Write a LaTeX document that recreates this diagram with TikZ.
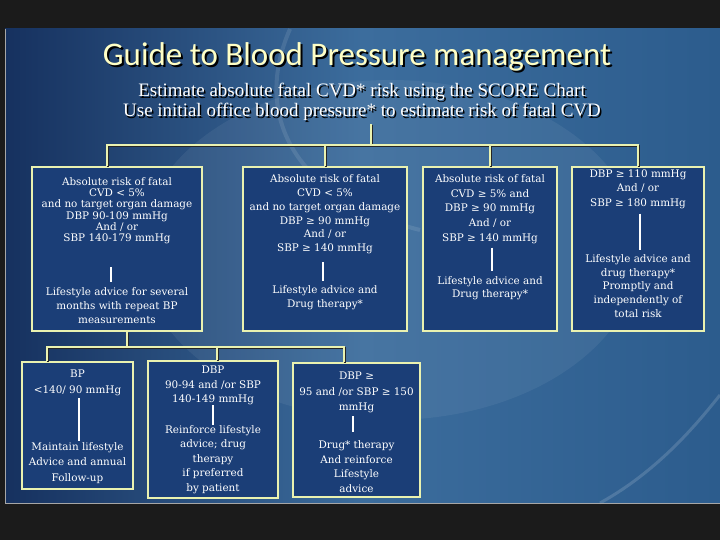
\documentclass[tikz,border=0pt]{standalone}
\usepackage{fontspec}
\setmainfont{Liberation Serif}
\newfontfamily\boxfont{DejaVu Serif}
\newfontfamily\titlefont{Carlito}
\usetikzlibrary{positioning}

\definecolor{outerbg}{HTML}{1B1B1B}
\definecolor{panelL}{HTML}{16315F}
\definecolor{panelM}{HTML}{3C6D9D}
\definecolor{panelR}{HTML}{2C5C8D}
\definecolor{boxline}{HTML}{EAF2B0}
\definecolor{boxfill}{HTML}{1B3E77}
\definecolor{titleyellow}{HTML}{FFFFC6}

\tikzset{
  box/.style={draw=boxline, line width=1.6pt, fill=boxfill, inner sep=0pt},
  btxt/.style={text=white, align=center, inner sep=0pt, anchor=north,
    font=\boxfont\fontsize{10.4}{#1}\selectfont},
  btxt/.default=14,
  conn/.style={draw=boxline, line width=1.6pt,
    preaction={draw=black!85, line width=1.6pt, transform canvas={shift={(1pt,-1pt)}}}},
  sepline/.style={draw=white, line width=1.8pt},
  titletxt/.style={font=\titlefont\fontsize{33}{33}\selectfont},
  subtxt/.style={font=\fontsize{19}{20}\selectfont, align=center}
}

\begin{document}
\begin{tikzpicture}[x=1pt,y=-1pt]
  \useasboundingbox (0,0) rectangle (720,540);
  \fill[outerbg] (0,0) rectangle (720,540);

  % slide background
  \shade[left color=panelL, right color=panelR, middle color=panelM] (5,29) rectangle (720,503);
  \fill[white, opacity=0.06] (390,250) ellipse (250pt and 170pt);
  \draw[white, opacity=0.10, line width=4pt] (290,29) .. controls (250,120) and (300,200) .. (420,230);
  \draw[white, opacity=0.15, line width=3pt] (600,503) .. controls (660,470) and (700,420) .. (720,395);
  \draw[gray!70, line width=0.8pt] (5,29) -- (5,503) -- (720,503);

  % title
  \node[titletxt, text=black] (title-s) at (359,59) {Guide to Blood Pressure management};
  \node[titletxt, text=titleyellow] (title) at (357,57) {Guide to Blood Pressure management};
  \node[subtxt, text=black] (sub-s) at (363.5,103.5) {Estimate absolute fatal CVD* risk using the SCORE Chart\\Use initial office blood pressure* to estimate risk of fatal CVD};
  \node[subtxt, text=white] (sub) at (362,102) {Estimate absolute fatal CVD* risk using the SCORE Chart\\Use initial office blood pressure* to estimate risk of fatal CVD};

  % boxes
  \node[box, minimum width=170, minimum height=164] (A) at (117,249) {};
  \node[box, minimum width=164, minimum height=164] (B) at (325,249) {};
  \node[box, minimum width=134, minimum height=164] (C) at (490,249) {};
  \node[box, minimum width=132, minimum height=164] (D) at (638,249) {};
  \node[box, minimum width=111, minimum height=127] (E) at (77.5,425.5) {};
  \node[box, minimum width=130, minimum height=137] (F) at (213,429.5) {};
  \node[box, minimum width=127, minimum height=134] (G) at (356.5,430) {};

  % tree lines
  \coordinate (split1) at (371,145);
  \draw[conn] (split1 |- sub.south) -- (split1);
  \draw[conn] ([xshift=-10pt]A.north) |- (split1) -| (D.north);
  \draw[conn] (B.north) -- (B.north |- split1);
  \draw[conn] (C.north) -- (C.north |- split1);
  \coordinate (split2) at (127,347);
  \draw[conn] ([xshift=10pt]A.south) -- (split2);
  \draw[conn] ([xshift=-30.5pt]E.north) |- (split2) -| ([xshift=-12.5pt]G.north);
  \draw[conn] ([xshift=4pt]F.north) -- ([xshift=4pt]F.north |- split2);

  % box texts
  \node[btxt=11.3, below=11pt of A.north] (A1) {Absolute risk of fatal\\CVD < 5\%\\and no target organ damage\\DBP 90-109 mmHg\\And / or\\SBP 140-179 mmHg};
  \node[btxt, below=121pt of A.north] (A2) {Lifestyle advice for several\\months with repeat BP\\measurements};
  \node[btxt=13.9, below=8pt of B.north] (B1) {Absolute risk of fatal\\CVD < 5\%\\and no target organ damage\\DBP ≥ 90 mmHg\\And / or\\SBP ≥ 140 mmHg};
  \node[btxt, below=119pt of B.north] (B2) {Lifestyle advice and\\Drug therapy*};
  \node[btxt=14.7, below=8pt of C.north] (C1) {Absolute risk of fatal\\CVD ≥ 5\% and\\DBP ≥ 90 mmHg\\And / or\\SBP ≥ 140 mmHg};
  \node[btxt=13, below=110pt of C.north] (C2) {Lifestyle advice and\\Drug therapy*};
  \node[btxt=14.5, below=3pt of D.north] (D1) {DBP ≥ 110 mmHg\\And / or\\SBP ≥ 180 mmHg};
  \node[btxt=13.8, below=88pt of D.north] (D2) {Lifestyle advice and\\drug therapy*\\Promptly and\\independently of\\total risk};
  \node[btxt=16, below=9pt of E.north] (E1) {BP\\<140/ 90 mmHg};
  \node[btxt=15.5, below=81pt of E.north] (E2) {Maintain lifestyle\\Advice and annual\\Follow-up};
  \node[btxt=14.5, below=6pt of F.north] (F1) {DBP\\90-94 and /or SBP\\140-149 mmHg};
  \node[btxt=14.5, below=65pt of F.north] (F2) {Reinforce lifestyle\\advice; drug\\therapy\\if preferred\\by patient};
  \node[btxt=15.5, below=10pt of G.north] (G1) {DBP ≥\\95 and /or SBP ≥ 150\\mmHg};
  \node[btxt=14.7, below=78pt of G.north] (G2) {Drug* therapy\\And reinforce\\Lifestyle\\advice};

  % separators
  \foreach \n/\dx/\a/\b in {A/-6/23/5, B/-2/8/4, C/2/4/5, D/2/5/4, E/1.5/2/1, F/0/0/0, G/-3.5/3/8}
    \draw[sepline, shorten <=\a pt, shorten >=\b pt] ([xshift=\dx pt]\n1.south) -- ([xshift=\dx pt]\n2.north);
\end{tikzpicture}
\end{document}
